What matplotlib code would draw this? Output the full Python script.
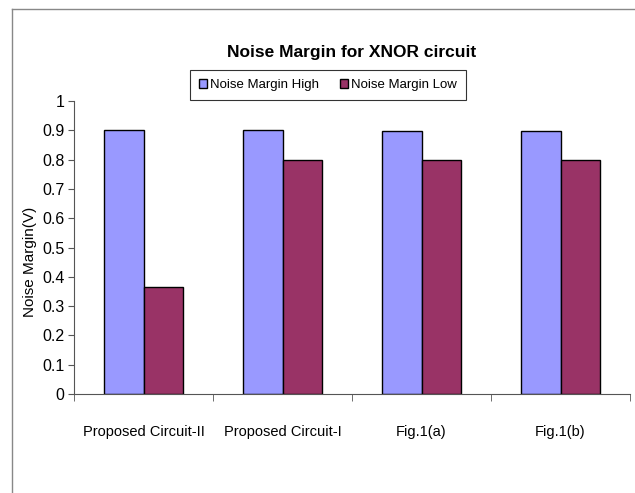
import numpy as np
import matplotlib.pyplot as plt
from matplotlib.lines import Line2D

# values
categories = ['Proposed Circuit-II', 'Proposed Circuit-I', 'Fig.1(a)', 'Fig.1(b)']
nm_high = [0.90, 0.90, 0.897, 0.897]
nm_low = [0.365, 0.80, 0.80, 0.80]
yticks = [0, 0.1, 0.2, 0.3, 0.4, 0.5, 0.6, 0.7, 0.8, 0.9, 1]
ytick_labels = ['0', '0.1', '0.2', '0.3', '0.4', '0.5', '0.6', '0.7', '0.8', '0.9', '1']

plt.rcParams['font.family'] = ['Liberation Sans', 'DejaVu Sans']

fig = plt.figure(figsize=(6.35, 4.93), dpi=100)
ax = fig.add_axes([74 / 635, 1 - 394 / 493, (630 - 74) / 635, (394 - 101) / 493])

x = np.arange(len(categories))
w = 0.285
ax.bar(x - w / 2, nm_high, w, color='#9999FF', edgecolor='black', linewidth=1.0,
       label='Noise Margin High')
ax.bar(x + w / 2, nm_low, w, color='#993366', edgecolor='black', linewidth=1.0,
       label='Noise Margin Low')

ax.set_xlim(-0.5, len(categories) - 0.5)
ax.set_ylim(0, 1)
ax.set_yticks(yticks)
ax.set_yticklabels(ytick_labels, fontsize=11.5)
ax.set_xticks(x)
ax.set_xticklabels(categories, fontsize=10.5)
ax.tick_params(axis='x', length=0, pad=22)
ax.set_xticks(np.arange(len(categories) + 1) - 0.5, minor=True)
ax.tick_params(axis='x', which='minor', length=5, color='#555555', direction='out')
ax.tick_params(axis='y', length=4, color='#555555', direction='out', pad=3)
for s in ['top', 'right']:
    ax.spines[s].set_visible(False)
for s in ['left', 'bottom']:
    ax.spines[s].set_color('#555555')

fig.text(30 / 635, 1 - 262 / 493, 'Noise Margin(V)', rotation=90, fontsize=11,
         ha='center', va='center')
fig.text(352 / 635, 1 - 52 / 493, 'Noise Margin for XNOR circuit', fontsize=12.5,
         fontweight='bold', ha='center', va='center')

leg = fig.legend(loc='center', bbox_to_anchor=(328 / 635, 1 - 85 / 493), ncol=2,
                 fontsize=9.5, frameon=True, fancybox=False, edgecolor='black',
                 handlelength=0.6, handleheight=0.6, handletextpad=0.2,
                 columnspacing=1.6, borderpad=0.7)
leg.get_frame().set_linewidth(0.8)

# thin grey border of the chart area
fig.add_artist(Line2D([12 / 635, 1], [1 - 9 / 493, 1 - 9 / 493], color='#888888', lw=1))
fig.add_artist(Line2D([12 / 635, 12 / 635], [0, 1 - 9 / 493], color='#888888', lw=1))

plt.savefig('out.png', dpi=100)
